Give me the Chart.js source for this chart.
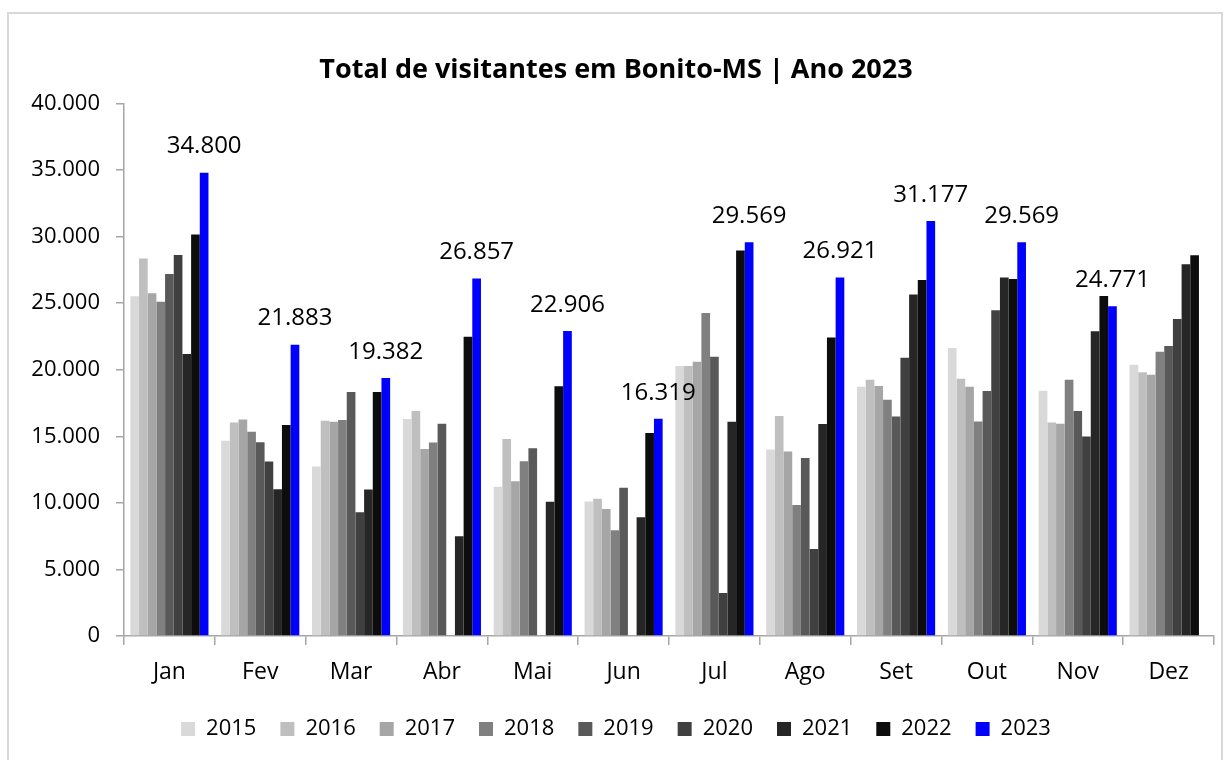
<!DOCTYPE html>
<html>
<head>
<meta charset="utf-8">
<script src="https://cdn.jsdelivr.net/npm/chart.js@4/dist/chart.umd.min.js"></script>
<style>
  html, body { margin: 0; padding: 0; background: #fff; }
  #wrap { position: relative; width: 1228px; height: 760px; overflow: hidden; }
  #frame { position: absolute; left: 7px; top: 12px; width: 1216px; height: 800px; border: 2px solid #d9d9d9; box-sizing: border-box; }
  canvas { position: absolute; left: 0; top: 0; }
</style>
</head>
<body>
<div id="wrap">
  <div id="frame"></div>
  <canvas id="c" width="1228" height="760"></canvas>
</div>
<script>
const months = ["Jan","Fev","Mar","Abr","Mai","Jun","Jul","Ago","Set","Out","Nov","Dez"];
const years = ["2015","2016","2017","2018","2019","2020","2021","2022","2023"];
const colors = ["#d9d9d9","#bfbfbf","#a6a6a6","#808080","#595959","#404040","#262626","#0d0d0d","#0000ff"];

const v2015 = [25510, 14660, 12730, 16290, 11200, 10100, 20280, 14010, 18720, 21630, 18420, 20380];
const v2016 = [28350, 16040, 16170, 16890, 14790, 10300, 20280, 16520, 19250, 19320, 16040, 19800];
const v2017 = [25740, 16260, 16090, 14040, 11630, 9530, 20600, 13860, 18770, 18720, 15940, 19620];
const v2018 = [25110, 15340, 16220, 14540, 13130, 7950, 24260, 9830, 17740, 16110, 19250, 21350];
const v2019 = [27190, 14560, 18320, 15940, 14110, 11130, 20980, 13360, 16490, 18400, 16890, 21780];
const v2020 = [28620, 13100, 9300, 0, 0, 0, 3230, 6540, 20900, 24460, 14990, 23810];
const v2021 = [21180, 11030, 11000, 7500, 10080, 8920, 16090, 15920, 25640, 26920, 22880, 27920];
const v2022 = [30150, 15840, 18320, 22480, 18750, 15240, 28950, 22410, 26740, 26820, 25540, 28590];
const v2023 = [34800, 21883, 19382, 26857, 22906, 16319, 29569, 26921, 31177, 29569, 24771, null];

const series = [v2015, v2016, v2017, v2018, v2019, v2020, v2021, v2022, v2023];
const yTicks = [0, 5000, 10000, 15000, 20000, 25000, 30000, 35000, 40000];

const fmt = v => v.toString().replace(/\B(?=(\d{3})+(?!\d))/g, ".");

const datasets = series.map((d, i) => ({
  label: years[i],
  data: d,
  backgroundColor: colors[i],
  borderWidth: 0,
  barPercentage: 1.0,
  categoryPercentage: 0.86
}));

const labelPlugin = {
  id: 'labels2023',
  afterDatasetsDraw(chart) {
    const ctx = chart.ctx;
    const meta = chart.getDatasetMeta(8);
    ctx.save();
    ctx.font = '24px "Open Sans", sans-serif';
    ctx.fillStyle = '#000';
    ctx.textAlign = 'center';
    ctx.textBaseline = 'middle';
    meta.data.forEach((bar, i) => {
      const v = v2023[i];
      if (v == null) return;
      ctx.fillText(fmt(v), bar.x, bar.y - 26);
    });
    ctx.restore();
  }
};

new Chart(document.getElementById('c'), {
  type: 'bar',
  data: { labels: months, datasets },
  options: {
    responsive: false,
    animation: false,
    layout: { padding: { left: 18, right: 14, top: 54, bottom: 10 } },
    plugins: {
      title: {
        display: true,
        text: 'Total de visitantes em Bonito-MS | Ano 2023',
        color: '#000',
        font: { family: '"Open Sans", sans-serif', size: 27, weight: 'bold', lineHeight: 1.2 },
        padding: { top: 0, bottom: 17 }
      },
      legend: {
        position: 'bottom',
        labels: {
          boxWidth: 14,
          boxHeight: 14,
          color: '#000',
          font: { family: '"Open Sans", sans-serif', size: 22 },
          padding: 24
        }
      },
      tooltip: { enabled: false }
    },
    scales: {
      x: {
        grid: { offset: true, drawOnChartArea: false, drawTicks: true, tickLength: 9, color: '#a6a6a6', lineWidth: 1.5 },
        border: { display: true, color: '#a6a6a6', width: 1.5 },
        ticks: { color: '#000', font: { family: '"Open Sans", sans-serif', size: 23 }, padding: 14 },
        afterFit(scale) { scale.height = 58; }
      },
      y: {
        min: 0,
        max: 40000,
        afterBuildTicks(scale) { scale.ticks = yTicks.map(v => ({ value: v })); },
        grid: { drawOnChartArea: false, drawTicks: true, tickLength: 8, color: '#a6a6a6', lineWidth: 1.5 },
        border: { display: true, color: '#a6a6a6', width: 1.5 },
        ticks: { color: '#000', font: { family: '"Open Sans", sans-serif', size: 22 }, padding: 16, callback: v => fmt(v) },
        afterFit(scale) { scale.width = 106; }
      }
    }
  },
  plugins: [labelPlugin]
});
</script>
</body>
</html>
